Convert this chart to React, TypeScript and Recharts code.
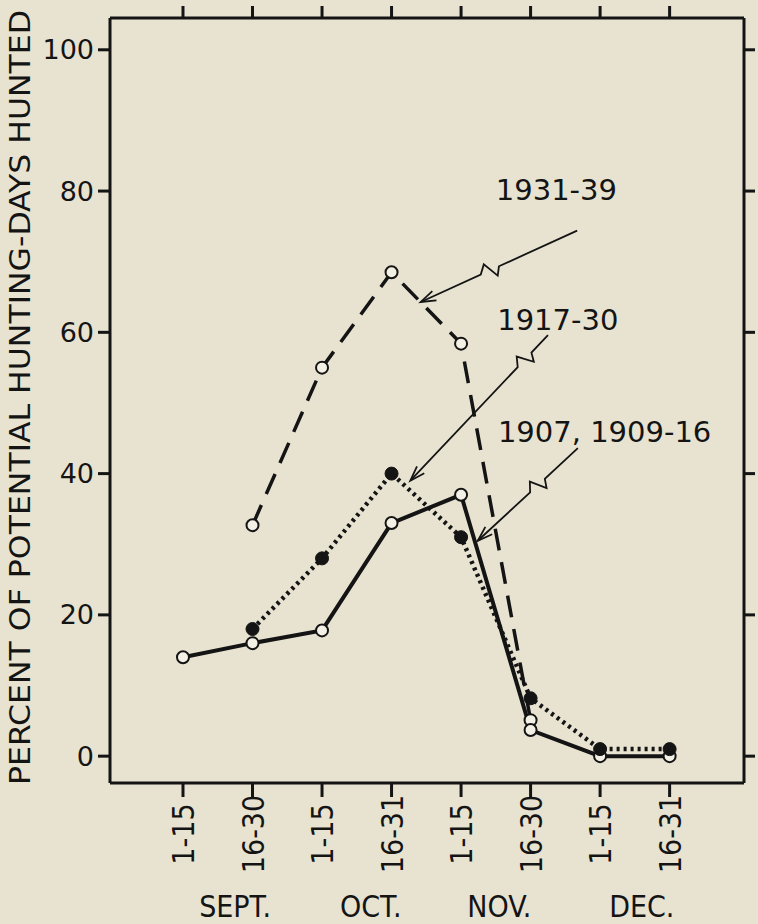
import React from 'react';
import { LineChart, Line, XAxis, YAxis, ReferenceLine, ReferenceDot } from 'recharts';

// half-month periods, Sept 1-15 .. Dec 16-31
const periods = ['1-15', '16-30', '1-15', '16-31', '1-15', '16-30', '1-15', '16-31'];
const months = ['SEPT.', 'OCT.', 'NOV.', 'DEC.'];
const monthAt = [0.75, 2.7, 4.55, 6.6];
const yTicks = [0, 20, 40, 60, 80, 100];

const s1907 = [14, 16, 17.8, 33, 37, 3.7, 0, 0];
const s1917 = [null, 18, 28, 40, 31, 8.2, 1, 1];
const s1931 = [null, 32.7, 55, 68.5, 58.4, 5.1, null, null];

const notes = [
  { text: '1931-39', at: [4.5, 78.8], from: [5.67, 74.4], to: [3.42, 64.3], brk: 0.5 },
  { text: '1917-30', at: [4.52, 60.3], from: [5.25, 59.6], to: [3.27, 39.0], brk: 0.12 },
  { text: '1907,  1909-16', at: [4.53, 44.5], from: [5.68, 43.6], to: [4.24, 30.5], brk: 0.33 },
];

const rows = periods.map((p, i) => ({ i, a: s1907[i], b: s1917[i], c: s1931[i] }));

const INK = '#141414';
const PAPER = '#e8e3d1';
const HOLE = '#f3f0e6';
const COND = '"DejaVu Sans Condensed", "Liberation Sans Narrow", "DejaVu Sans", sans-serif';

function openDot(p: any) {
  if (p.cy == null || p.value == null) return <g key={p.key} />;
  return <circle key={p.key} cx={p.cx} cy={p.cy} r={6} fill={HOLE} stroke={INK} strokeWidth={2} />;
}

function fullDot(p: any) {
  if (p.cy == null || p.value == null) return <g key={p.key} />;
  return <circle key={p.key} cx={p.cx} cy={p.cy} r={6.5} fill={INK} stroke={INK} strokeWidth={1} />;
}

function PeriodTick({ x, y, payload }: any) {
  return (
    <text transform={`translate(${x + 11},${y + 37}) rotate(-90)`} textAnchor="middle"
      fontFamily={COND} fontSize={30} fill={INK}>
      {periods[payload.value]}
    </text>
  );
}

function MonthTick({ x, y, index }: any) {
  return (
    <text x={x} y={y + 29} textAnchor="middle" fontFamily={COND} fontSize={30} fill={INK}>
      {months[index]}
    </text>
  );
}

function YTitle({ viewBox }: any) {
  const cx = viewBox.x + 30;
  const cy = viewBox.y + viewBox.height / 2 - 3;
  return (
    <text transform={`translate(${cx},${cy}) rotate(-90)`} textAnchor="middle"
      fontFamily={COND} fontSize={29} fill={INK} textLength={775} lengthAdjust="spacingAndGlyphs">
      PERCENT OF POTENTIAL HUNTING-DAYS HUNTED
    </text>
  );
}

function bolt(brk: number) {
  return (p: any) => {
    const { x1, y1, x2, y2 } = p;
    const dx = x2 - x1, dy = y2 - y1;
    const len = Math.hypot(dx, dy);
    const ux = dx / len, uy = dy / len, nx = -uy, ny = ux;
    const ax = x1 + dx * brk, ay = y1 + dy * brk;
    const pt = (a: number, b: number) => `${ax + ux * a + nx * b},${ay + uy * a + ny * b}`;
    const hd = (s: number) => `${x2 - ux * 15 + nx * 5 * s},${y2 - uy * 15 + ny * 5 * s}`;
    return (
      <g fill="none" stroke={INK} strokeWidth={1.8}>
        <path d={`M${x1},${y1} L${pt(0, 0)} L${pt(5, -8)} L${pt(13, 8)} L${pt(20, 0)} L${x2},${y2}`} />
        <path d={`M${hd(1)} L${x2},${y2} L${hd(-1)}`} />
      </g>
    );
  };
}

function noteText(text: string) {
  return (p: any) => (
    <text x={p.cx} y={p.cy} fontFamily='"DejaVu Sans", sans-serif' fontSize={29} fill={INK}>
      {text}
    </text>
  );
}

export default function App() {
  return (
    <div style={{ position: 'absolute', left: 0, top: 0, width: 758, height: 924, background: PAPER }}>
      <LineChart width={758} height={924} data={rows} margin={{ top: 4, right: 4, bottom: 0, left: 0 }}>
        <XAxis dataKey="i" type="number" domain={[-1.05, 8.07]} allowDataOverflow ticks={[0, 1, 2, 3, 4, 5, 6, 7]}
          height={105} tickSize={14} tickMargin={0} stroke={INK} strokeWidth={3}
          tick={<PeriodTick />} />
        <XAxis xAxisId="month" dataKey="i" type="number" domain={[-1.05, 8.07]} allowDataOverflow ticks={monthAt}
          height={36} tickSize={0} tickMargin={0} axisLine={false} tickLine={false} tick={<MonthTick />} />
        <XAxis xAxisId="top" orientation="top" dataKey="i" type="number" domain={[-1.05, 8.07]} allowDataOverflow
          ticks={[0, 1, 2, 3, 4, 5, 6, 7]} height={14} tickSize={12} stroke={INK} strokeWidth={3}
          tickFormatter={() => ''} />
        <YAxis type="number" domain={[-3.8, 104.5]} allowDataOverflow ticks={yTicks} width={110}
          tickSize={12} tickMargin={4} stroke={INK} strokeWidth={3}
          tick={{ fontFamily: '"DejaVu Sans", sans-serif', fontSize: 27, fill: INK, stroke: 'none' }}
          label={{ content: (p: any) => <YTitle {...p} /> }} />
        <YAxis yAxisId="right" orientation="right" type="number" domain={[-3.8, 104.5]} allowDataOverflow
          ticks={yTicks} width={10} tickSize={11} stroke={INK} strokeWidth={3} tickFormatter={() => ''} />

        <Line dataKey="c" stroke={INK} strokeWidth={3.5} strokeDasharray="22 12" dot={openDot}
          activeDot={false} isAnimationActive={false} connectNulls={false} />
        <Line dataKey="a" stroke={INK} strokeWidth={4} dot={openDot}
          activeDot={false} isAnimationActive={false} connectNulls={false} />
        <Line dataKey="b" stroke={INK} strokeWidth={4.5} strokeDasharray="3 4" dot={fullDot}
          activeDot={false} isAnimationActive={false} connectNulls={false} />

        {notes.map((n) => (
          <ReferenceLine key={n.text + 'l'} segment={[{ x: n.from[0], y: n.from[1] }, { x: n.to[0], y: n.to[1] }]}
            shape={bolt(n.brk)} />
        ))}
        {notes.map((n) => (
          <ReferenceDot key={n.text + 't'} x={n.at[0]} y={n.at[1]} r={0} shape={noteText(n.text)} />
        ))}
      </LineChart>
    </div>
  );
}
